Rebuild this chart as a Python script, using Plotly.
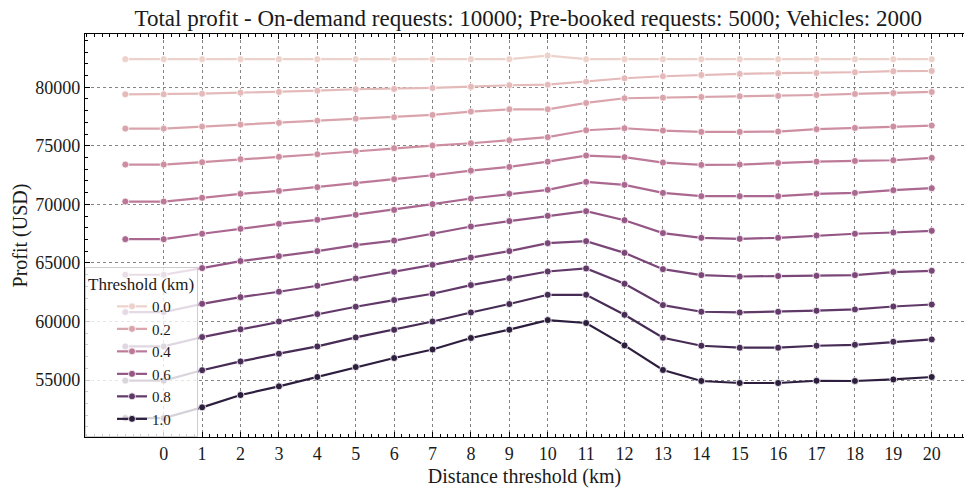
import numpy as np
import plotly.graph_objects as go

# Distance thresholds (km); -1 is the baseline run without a distance threshold
distance_km = [-1, 0, 1, 2, 3, 4, 5, 6, 7, 8, 9, 10, 11, 12, 13, 14, 15, 16, 17, 18, 19, 20]
tick_km = list(range(0, 21))

thresholds = [0.0, 0.1, 0.2, 0.3, 0.4, 0.5, 0.6, 0.7, 0.8, 0.9, 1.0]
legend_thresholds = [0.0, 0.2, 0.4, 0.6, 0.8, 1.0]

profit_t00 = [82400, 82400, 82400, 82400, 82400, 82400, 82400, 82400, 82400, 82400, 82400,
              82700, 82400, 82400, 82400, 82400, 82400, 82400, 82400, 82400, 82400, 82400]
profit_t01 = [79400, 79400, 79450, 79540, 79600, 79710, 79830, 79860, 79940, 80050, 80170,
              80220, 80480, 80770, 80940, 81050, 81140, 81200, 81220, 81280, 81370, 81390]
profit_t02 = [76470, 76470, 76640, 76810, 76960, 77150, 77320, 77440, 77640, 77920, 78120,
              78120, 78660, 79060, 79110, 79170, 79230, 79260, 79340, 79430, 79510, 79600]
profit_t03 = [73400, 73400, 73600, 73860, 74060, 74280, 74540, 74800, 75020, 75220, 75480,
              75740, 76330, 76500, 76300, 76190, 76190, 76220, 76420, 76530, 76640, 76730]
profit_t04 = [70240, 70240, 70560, 70900, 71150, 71470, 71780, 72150, 72490, 72880, 73200,
              73650, 74170, 74030, 73570, 73370, 73400, 73540, 73650, 73710, 73770, 73970]
profit_t05 = [67030, 67030, 67490, 67910, 68340, 68680, 69110, 69530, 70020, 70500, 70900,
              71240, 71920, 71670, 70980, 70700, 70700, 70700, 70900, 70980, 71210, 71380]
profit_t06 = [63990, 63990, 64560, 65160, 65580, 66010, 66520, 66910, 67490, 68110, 68570,
              69020, 69420, 68650, 67550, 67140, 67060, 67140, 67340, 67490, 67600, 67740]
profit_t07 = [60800, 60800, 61510, 62080, 62540, 63050, 63670, 64240, 64840, 65460, 66010,
              66690, 66860, 65860, 64470, 63960, 63840, 63880, 63900, 63960, 64220, 64330]
profit_t08 = [57870, 57870, 58670, 59330, 60000, 60630, 61260, 61830, 62370, 63110, 63700,
              64270, 64530, 63220, 61400, 60830, 60770, 60830, 60920, 61030, 61280, 61450]
profit_t09 = [54950, 54950, 55840, 56590, 57250, 57870, 58640, 59290, 60000, 60770, 61490,
              62280, 62280, 60570, 58610, 57930, 57760, 57760, 57930, 58010, 58270, 58470]
profit_t10 = [51750, 51750, 52670, 53720, 54460, 55260, 56110, 56880, 57610, 58590, 59300,
              60120, 59870, 57960, 55860, 54920, 54750, 54750, 54940, 54920, 55050, 55260]

profits = [profit_t00, profit_t01, profit_t02, profit_t03, profit_t04, profit_t05,
           profit_t06, profit_t07, profit_t08, profit_t09, profit_t10]


def cubehelix(frac, start=0.0, rot=0.4, hue=0.8, gamma=1.0):
    """Cubehelix colour (the sequential palette used for the hue)."""
    xg = frac ** gamma
    a = hue * xg * (1 - xg) / 2
    phi = 2 * np.pi * (start / 3 + rot * frac)
    r = xg + a * (-0.14861 * np.cos(phi) + 1.78277 * np.sin(phi))
    g = xg + a * (-0.29227 * np.cos(phi) - 0.90649 * np.sin(phi))
    b = xg + a * (1.97294 * np.cos(phi))
    rgb = [int(round(255 * min(max(c, 0), 1))) for c in (r, g, b)]
    return "rgb({},{},{})".format(*rgb)


light, dark = 0.85, 0.15
FONT = "Liberation Serif, 'Times New Roman', 'DejaVu Serif', serif"
TXT = "#1a1a1a"

fig = go.Figure()
for t, values in zip(thresholds, profits):
    color = cubehelix(light + (dark - light) * t)
    fig.add_trace(go.Scatter(
        x=distance_km, y=values, mode="lines+markers",
        name=f"{t:.1f}",
        showlegend=any(abs(t - lt) < 1e-9 for lt in legend_thresholds),
        line=dict(color=color, width=2.2),
        marker=dict(color=color, size=7, line=dict(color="white", width=0.8)),
    ))

axis_common = dict(
    showline=True, linecolor="black", linewidth=1.2,
    ticks="inside", tickcolor="black", ticklen=5, tickwidth=1,
    showgrid=True, gridcolor="rgba(90,90,90,0.75)", griddash="dot", gridwidth=1,
    zeroline=False,
    tickfont=dict(family=FONT, size=18, color=TXT),
)

fig.update_layout(
    width=964, height=488,
    margin=dict(l=85, r=0, t=34, b=51),
    paper_bgcolor="white", plot_bgcolor="white",
    title=dict(
        text="Total profit - On-demand requests: 10000; Pre-booked requests: 5000; Vehicles: 2000",
        x=0.548, xanchor="center", y=0.963, yanchor="middle",
        font=dict(family=FONT, size=23, color=TXT),
    ),
    xaxis=dict(
        **axis_common,
        range=[-2.05, 20.84],
        tickmode="array", tickvals=tick_km, ticktext=[str(v) for v in tick_km],
        mirror="allticks",
        minor=dict(ticks="inside", ticklen=3, tickcolor="black", dtick=0.2, tick0=0, showgrid=False),
        title=dict(text="Distance threshold (km)", font=dict(family=FONT, size=20, color=TXT), standoff=6),
    ),
    yaxis=dict(
        **axis_common,
        range=[50137, 84548],
        tickmode="linear", tick0=0, dtick=5000, tickformat="d",
        minor=dict(ticks="inside", ticklen=3, tickcolor="black", dtick=1000, showgrid=False),
        title=dict(text="Profit (USD)", font=dict(family=FONT, size=20, color=TXT), standoff=2),
    ),
    legend=dict(
        title=dict(text="Threshold (km)", font=dict(family=FONT, size=17, color=TXT)),
        font=dict(family=FONT, size=15, color=TXT),
        x=0.0, y=0.0, xanchor="left", yanchor="bottom",
        bgcolor="rgba(255,255,255,0.8)", bordercolor="rgba(200,200,200,0.9)", borderwidth=1,
        indentation=26, itemwidth=30, tracegroupgap=0,
    ),
)

fig.write_html("out.html")
